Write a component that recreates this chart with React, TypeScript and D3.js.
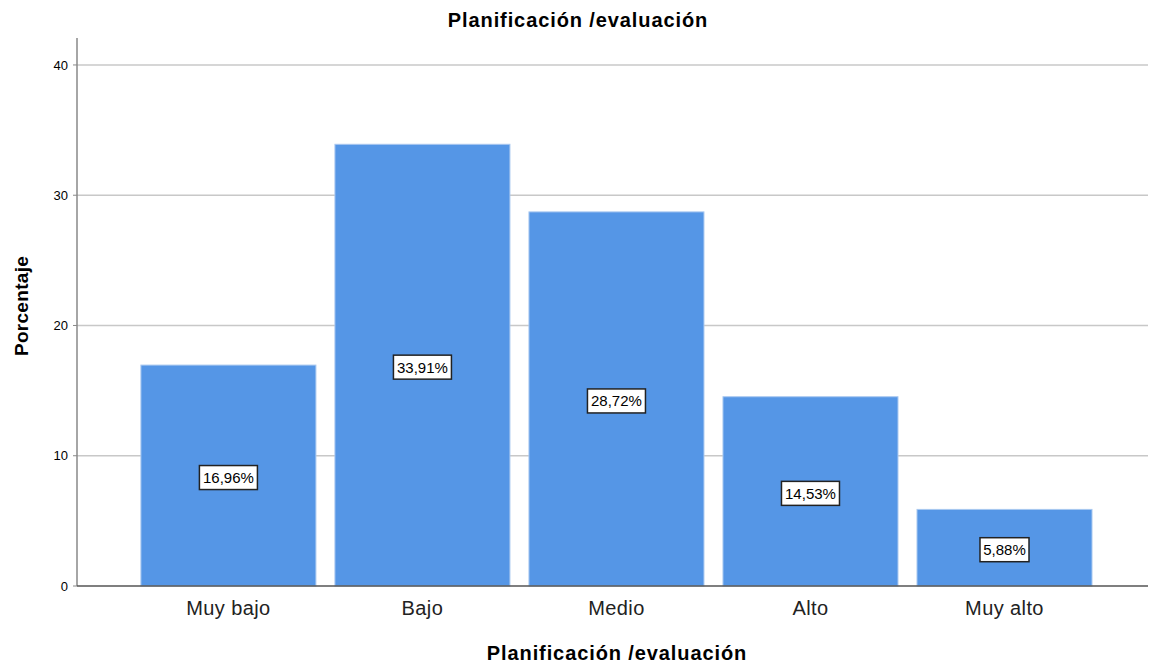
import React from 'react';
import * as d3 from 'd3';

const categories = ['Muy bajo', 'Bajo', 'Medio', 'Alto', 'Muy alto'];
const percentages = [16.96, 33.91, 28.72, 14.53, 5.88];
const yTicks = [0, 10, 20, 30, 40];

const W = 1150;
const H = 665;
const left = 77;
const right = 1148;
const top = 38;
const bottom = 586;
const FONT = '"Liberation Sans", Arial, sans-serif';

export default function App() {
  const x = d3
    .scaleBand<string>()
    .domain(categories)
    .range([left, right])
    .paddingInner(0.098)
    .paddingOuter(0.309)
    .align(0.533);

  const y = d3.scaleLinear().domain([0, 42.07]).range([bottom, top]);

  const fmt = (v: number) => v.toFixed(2).replace('.', ',') + '%';

  return (
    <svg
      width={W}
      height={H}
      style={{ position: 'absolute', left: 0, top: 0, background: '#fff' }}
      fontFamily={FONT}
    >
      <text x={578} y={27} textAnchor="middle" fontSize={20} fontWeight="bold" letterSpacing={0.9} fill="#000">
        Planificación /evaluación
      </text>

      {/* grid */}
      {yTicks.filter(t => t > 0).map(t => (
        <line key={t} x1={left} x2={right} y1={y(t)} y2={y(t)} stroke="#c8c8c8" strokeWidth={1.5} />
      ))}

      {/* bars */}
      {categories.map((c, i) => (
        <rect
          key={c}
          x={x(c)}
          y={y(percentages[i])}
          width={x.bandwidth()}
          height={bottom - y(percentages[i])}
          fill="#5596E6"
          stroke="#a9c8f0"
          strokeWidth={1}
        />
      ))}

      {/* y axis */}
      <line x1={left} x2={left} y1={top} y2={bottom} stroke="#888" strokeWidth={1.5} />
      {yTicks.map(t => (
        <g key={t}>
          <line x1={left - 4} x2={left} y1={y(t)} y2={y(t)} stroke="#888" strokeWidth={1} />
          <text x={left - 9} y={y(t)} dy="0.36em" textAnchor="end" fontSize={13} fill="#000">
            {t}
          </text>
        </g>
      ))}

      {/* x axis */}
      <line x1={left} x2={right} y1={bottom} y2={bottom} stroke="#555" strokeWidth={1.5} />
      {categories.map(c => (
        <text
          key={c}
          x={(x(c) ?? 0) + x.bandwidth() / 2}
          y={615}
          textAnchor="middle"
          fontSize={20}
          letterSpacing={0.4}
          fill="#222"
        >
          {c}
        </text>
      ))}

      {/* value labels */}
      {categories.map((c, i) => {
        const cx = (x(c) ?? 0) + x.bandwidth() / 2;
        const cy = (y(percentages[i]) + bottom) / 2 + 2;
        const label = fmt(percentages[i]);
        const bw = label.length * 9 + 4;
        return (
          <g key={c}>
            <rect x={cx - bw / 2} y={cy - 12} width={bw} height={24} fill="#fff" stroke="#222" strokeWidth={1.5} />
            <text x={cx} y={cy} dy="0.36em" textAnchor="middle" fontSize={15} fill="#000">
              {label}
            </text>
          </g>
        );
      })}

      <text
        transform={`translate(28, 306) rotate(-90)`}
        textAnchor="middle"
        fontSize={19}
        fontWeight="bold"
        letterSpacing={0.3}
        fill="#000"
      >
        Porcentaje
      </text>

      <text x={617} y={660} textAnchor="middle" fontSize={20} fontWeight="bold" letterSpacing={0.9} fill="#000">
        Planificación /evaluación
      </text>
    </svg>
  );
}
